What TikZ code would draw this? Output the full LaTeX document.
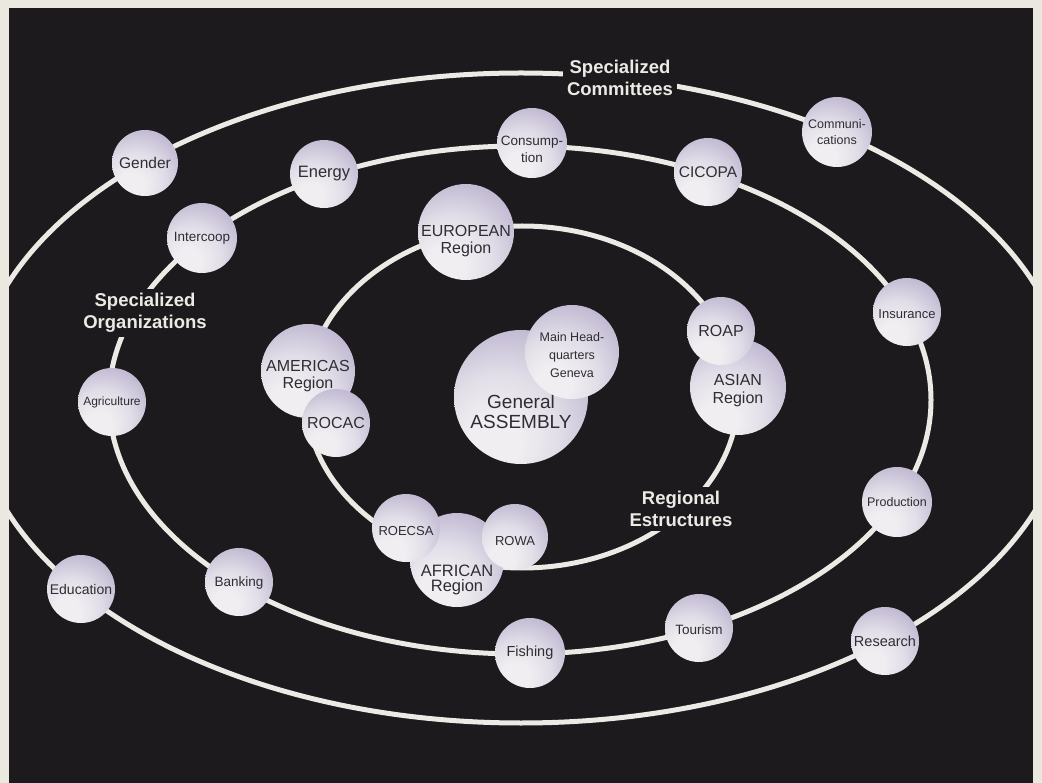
\documentclass[tikz,border=0pt]{standalone}
\usepackage{fontspec}
\setmainfont{Liberation Sans}
\definecolor{bgdark}{HTML}{1C1A1C}
\definecolor{paper}{HTML}{EBE8DF}
\definecolor{ringc}{HTML}{ECEAE5}
\definecolor{orbA}{HTML}{F0EEF1}
\definecolor{orbB}{HTML}{E2DEE8}
\definecolor{orbC}{HTML}{BCB4CF}
\definecolor{orbD}{HTML}{A69DC0}
\definecolor{orbE}{HTML}{9990B4}
\definecolor{orbtxt}{HTML}{2F2D34}
\pgfdeclareradialshading{orbshade}{\pgfpoint{-12bp}{-20bp}}{color(0bp)=(orbA); color(10bp)=(orbA); color(22bp)=(orbB); color(38bp)=(orbC); color(54bp)=(orbD); color(70bp)=(orbE)}
\tikzset{
  ring/.style={draw=ringc, line width=5pt},
  orb/.style={circle, shading=orbshade, minimum size=#1, inner sep=0pt},
  orbtext/.style={text=orbtxt, align=center, inner sep=0pt},
  grouplabel/.style={text=ringc, font=\bfseries\fontsize{18.5}{22}\selectfont, align=center, fill=bgdark, inner sep=4pt},
}
% name, position, diameter, font size, baseline skip, vertical shift (up), text
\newcommand{\orbat}[7]{%
  \node[orb=#3pt] (#1) at (#2) {};
  \node[orbtext, font=\fontsize{#4}{#5}\selectfont] (#1-t) at ([yshift=#6pt]#1.center) {#7};}
\begin{document}
\begin{tikzpicture}[x=1pt,y=-1pt]
\useasboundingbox (0,0) rectangle (1042,783);
\fill[paper] (0,0) rectangle (1042,783);
\fill[bgdark] (9,8) rectangle (1033,783);

% rings
\begin{scope}
  \clip (9,8) rectangle (1033,783);
  \draw[ring] (521,398) ellipse [x radius=548pt, y radius=325pt];
\end{scope}
\draw[ring] (520,400) ellipse [x radius=411pt, y radius=254pt];
\draw[ring] (522,397) ellipse [x radius=216pt, y radius=171pt];

% group labels (mask the rings)
\node[grouplabel] (lblSC) at (620,78) {Specialized\\Committees};
\node[grouplabel] (lblSO) at (145,313) {Specialized\\Organizations};
\node[grouplabel] (lblRE) at (681,509) {Regional\\Estructures};

% outer ring: specialized committees
\orbat{gender}{145,163}{66}{15.5}{17}{0}{Gender}
\orbat{comm}{837,132}{70}{12.5}{16}{0}{Communi-\\cations}
\orbat{educ}{81,589}{68}{14}{16}{0}{Education}
\orbat{research}{885,641}{68}{14.5}{16}{0}{Research}

% middle ring: specialized organizations
\orbat{energy}{324,174}{68}{16.5}{18}{0}{Energy}
\orbat{consump}{532,143}{70}{13.5}{17}{-6}{Consump-\\tion}
\orbat{cicopa}{708,172}{68}{15.5}{17}{0}{CICOPA}
\orbat{intercoop}{202,238}{70}{13.5}{16}{0}{Intercoop}
\orbat{insurance}{907,312}{68}{13}{16}{-2}{Insurance}
\orbat{agri}{112,402}{68}{12}{16}{0}{Agriculture}
\orbat{production}{897,502}{70}{12.5}{16}{0}{Production}
\orbat{banking}{239,582}{68}{13.5}{16}{-1}{Banking}
\orbat{tourism}{699,628}{68}{13.5}{16}{-2}{Tourism}
\orbat{fishing}{530,653}{70}{14.5}{16}{0}{Fishing}

% inner ring: regional structures
\orbat{european}{466,232}{96}{16}{17}{-9}{EUROPEAN\\Region}
\orbat{americas}{308,371}{94}{16}{17}{-5}{AMERICAS\\Region}
\orbat{rocac}{336,423}{68}{16}{17}{0}{ROCAC}
\orbat{african}{457,560}{94}{16.5}{15}{-20}{AFRICAN\\Region}
\orbat{roecsa}{406,528}{68}{13}{16}{-3}{ROECSA}
\orbat{rowa}{515,537}{66}{13}{16}{-4}{ROWA}
\orbat{asian}{738,387}{96}{16}{18}{-4}{ASIAN\\Region}
\orbat{roap}{721,331}{68}{16}{17}{0}{ROAP}

% centre
\orbat{ga}{521,397}{134}{19}{20}{-15}{General\\ASSEMBLY}
\orbat{hq}{572,352}{94}{12.5}{18}{-3}{Main Head-\\quarters\\Geneva}
\end{tikzpicture}
\end{document}
